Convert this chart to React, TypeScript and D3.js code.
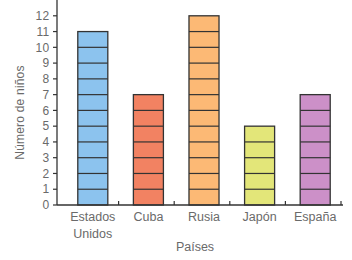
import React from "react";
import * as d3 from "d3";

const countries = ["Estados Unidos", "Cuba", "Rusia", "Japón", "España"];
const children = [11, 7, 12, 5, 7];
const colors = ["#8cc3ee", "#f28262", "#fcb975", "#e3e679", "#cc90c8"];
const yTicks = [0, 1, 2, 3, 4, 5, 6, 7, 8, 9, 10, 11, 12];

const W = 352;
const H = 260;

export default function App() {
  const x = d3.scaleBand<string>().domain(countries).range([65, 343]).paddingInner(0.46).paddingOuter(0.23);
  const y = d3.scaleLinear().domain([0, 12]).range([205, 15.8]);
  const step = x.step();
  const x0 = 65;
  const font = "Liberation Sans, Arial, sans-serif";
  const textColor = "#6a6a6a";
  const axisColor = "#333";
  return (
    <svg width={W} height={H} style={{ position: "absolute", left: 0, top: 0 }} fontFamily={font}>
      <rect width={W} height={H} fill="#fff" />
      {countries.map((c, i) => {
        const bx = x(c)!;
        const bw = x.bandwidth();
        const v = children[i];
        return (
          <g key={c}>
            <rect x={bx} y={y(v)} width={bw} height={y(0) - y(v)} fill={colors[i]} stroke={axisColor} strokeWidth={1.3} />
            {d3.range(1, v).map((k) => (
              <line key={k} x1={bx} x2={bx + bw} y1={y(k)} y2={y(k)} stroke={axisColor} strokeWidth={1.2} />
            ))}
          </g>
        );
      })}
      {/* y axis */}
      <line x1={57} x2={57} y1={0} y2={y(0)} stroke={axisColor} strokeWidth={1.3} />
      {yTicks.map((t) => (
        <g key={t}>
          <line x1={53} x2={57} y1={y(t)} y2={y(t)} stroke={axisColor} strokeWidth={1.2} />
          <text x={49.5} y={y(t)} dy="0.35em" textAnchor="end" fontSize={12} letterSpacing={0.3} fill={textColor}>
            {t}
          </text>
        </g>
      ))}
      {/* x axis */}
      <line x1={57} x2={343} y1={y(0)} y2={y(0)} stroke={axisColor} strokeWidth={1.3} />
      {countries.map((c, i) => (
        <line key={"t" + c} x1={x0 + step * (i + 1) - 2} x2={x0 + step * (i + 1) - 2} y1={y(0)} y2={y(0) - 4} stroke={axisColor} strokeWidth={1.2} />
      ))}
      {countries.map((c) => {
        const parts = c.split(" ");
        const cx = x(c)! + x.bandwidth() / 2;
        return (
          <text key={"l" + c} x={cx} y={217} textAnchor="middle" fontSize={12.5} fill={textColor}>
            {parts.map((p, j) => (
              <tspan key={j} x={cx} dy={j === 0 ? "0.35em" : 16.5}>
                {p}
              </tspan>
            ))}
          </text>
        );
      })}
      <text x={195} y={247} dy="0.35em" textAnchor="middle" fontSize={12.5} fill={textColor}>
        Países
      </text>
      <text transform="translate(20,112.5) rotate(-90)" textAnchor="middle" dy="0.35em" fontSize={12} letterSpacing={0.2} fill={textColor}>
        Número de niños
      </text>
    </svg>
  );
}
